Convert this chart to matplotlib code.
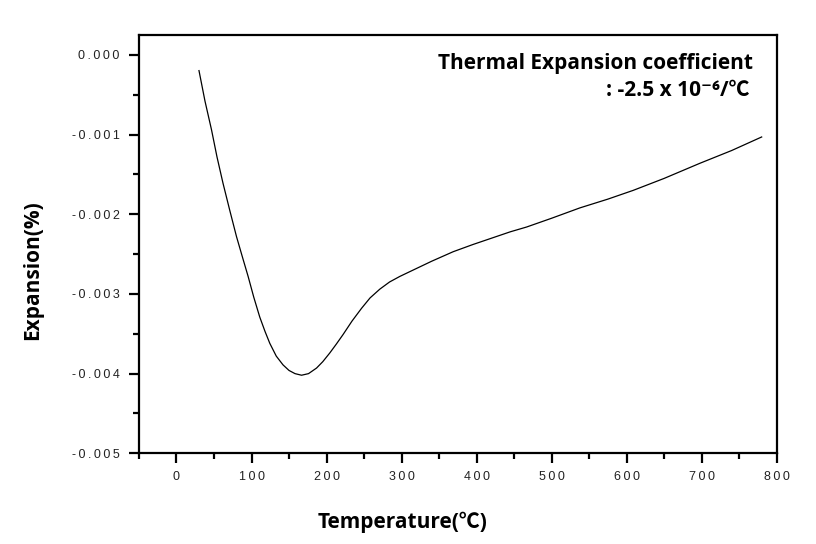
import numpy as np
import matplotlib
matplotlib.use('Agg')
import matplotlib.pyplot as plt
from matplotlib.ticker import MultipleLocator, FuncFormatter

# Expansion curve
temperature = [30, 38, 46.7, 54, 62, 71, 80, 88, 95.5, 103, 111, 118, 124.4,
               133, 142, 150, 158, 166.7, 176, 186.7, 195, 204.4, 213, 222,
               234, 246.7, 258, 271, 284, 297.7, 315.5, 340, 368.8, 395, 420,
               445, 466.7, 500, 537.7, 575, 608.8, 650, 697.7, 740, 780]
expansion = [-0.000197, -0.00058, -0.00094, -0.00128, -0.00161, -0.00195,
             -0.00228, -0.00254, -0.00278, -0.00304, -0.00329, -0.00347,
             -0.00362, -0.00378, -0.00389, -0.00396, -0.00400, -0.00402,
             -0.00400, -0.00393, -0.00385, -0.00374, -0.00363, -0.00351,
             -0.00334, -0.00318, -0.00305, -0.00294, -0.00285, -0.00278,
             -0.00270, -0.00259, -0.00247, -0.00238, -0.00230, -0.00222,
             -0.00216, -0.00205, -0.00192, -0.00181, -0.00170, -0.00155,
             -0.00136, -0.00120, -0.00103]

label_font = ['Open Sans', 'Noto Sans CJK KR', 'DejaVu Sans']
tick_font = ['Liberation Sans', 'DejaVu Sans']
thin = '\u2009'

fig = plt.figure(figsize=(8.16, 5.44), dpi=100)
ax = fig.add_axes([0.1703, 0.1667, 0.7815, 0.769])

ax.plot(temperature, expansion, color='black', lw=0.9)

ax.set_xlim(-50, 800)
ax.set_ylim(-0.005, 0.00025)
ax.xaxis.set_major_locator(MultipleLocator(100))
ax.xaxis.set_minor_locator(MultipleLocator(50))
ax.yaxis.set_major_locator(MultipleLocator(0.001))
ax.yaxis.set_minor_locator(MultipleLocator(0.0005))
ax.xaxis.set_major_formatter(FuncFormatter(
    lambda v, pos: thin.join('%d' % v)))
ax.yaxis.set_major_formatter(FuncFormatter(
    lambda v, pos: thin.join('%.3f' % (0 if abs(v) < 1e-9 else v))))

for s in ax.spines.values():
    s.set_linewidth(1.6)
ax.tick_params(which='both', direction='out', top=False, right=False, width=1.6)
ax.tick_params(which='major', length=7, labelsize=9)
ax.tick_params(axis='y', which='major', pad=7)
ax.tick_params(axis='x', which='major', pad=5.5)
ax.tick_params(which='minor', length=4)
for lab in ax.get_xticklabels() + ax.get_yticklabels():
    lab.set_family(tick_font)
    lab.set_color('#222222')

fig.text(403 / 816, 1 - 522 / 544, 'Temperature(℃)', family=label_font,
         fontsize=15, fontweight='bold', ha='center', va='center')
fig.text(33 / 816, 1 - 270.5 / 544, 'Expansion(%)', family=label_font,
         fontsize=15, fontweight='bold', ha='center', va='center',
         rotation=90)

fig.text(753 / 816, 1 - 64 / 544, 'Thermal Expansion coefficient',
         family=label_font, fontsize=15, fontweight='bold',
         ha='right', va='center')
fig.text(749 / 816, 1 - 90 / 544, ': -2.5 x 10⁻⁶/℃',
         family=label_font, fontsize=15, fontweight='bold',
         ha='right', va='center')

fig.savefig('out.png', dpi=100)
